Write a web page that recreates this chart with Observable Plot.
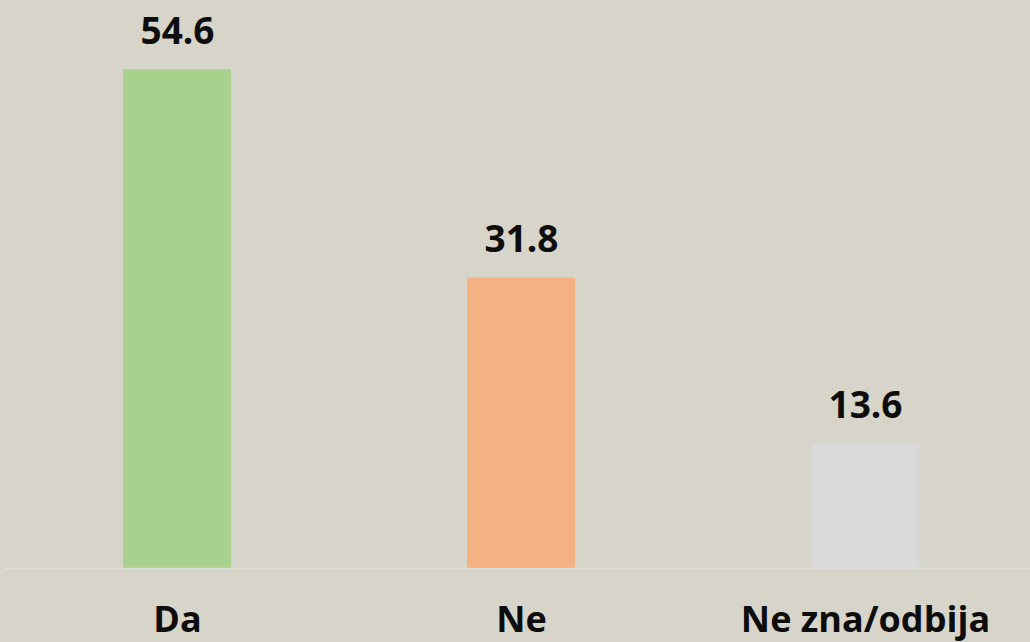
<!DOCTYPE html>
<html>
<head>
<meta charset="utf-8">
<script src="https://cdn.jsdelivr.net/npm/d3@7"></script>
<script src="https://cdn.jsdelivr.net/npm/@observablehq/plot@0.6"></script>
<style>
  html, body { margin: 0; padding: 0; background: #d7d4c9; }
  #chart svg { display: block; }
</style>
</head>
<body>
<div id="chart"></div>
<script>
const categories = ["Da", "Ne", "Ne zna/odbija"];
const values = [54.6, 31.8, 13.6];
const colors = ["#a9d18e", "#f4b183", "#d9d9d9"];

const data = categories.map((c, i) => ({category: c, value: values[i], color: colors[i]}));

const chart = Plot.plot({
  width: 1030,
  height: 642,
  marginTop: 20,
  marginBottom: 74,
  marginLeft: 5,
  marginRight: 0,
  style: {background: "transparent", fontFamily: "'Open Sans', sans-serif"},
  x: {domain: categories, range: [5, 1037], paddingInner: 0.686, paddingOuter: 0.343, label: null},
  y: {domain: [0, 60], axis: null},
  marks: [
    Plot.barY(data, {x: "category", y: "value", fill: "color"}),
    Plot.ruleY([0], {stroke: "#e2dfd8", strokeWidth: 1.6}),
    Plot.text(data, {x: "category", y: "value", text: d => d.value.toFixed(1), lineAnchor: "bottom", dy: -26, fontSize: 37, fontWeight: "bold", fill: "#0d0d0d"}),
    Plot.axisX({tickSize: 0, tickPadding: 38, fontSize: 36, fontWeight: "bold", color: "#0d0d0d", label: null})
  ]
});
document.getElementById("chart").appendChild(chart);
</script>
</body>
</html>
